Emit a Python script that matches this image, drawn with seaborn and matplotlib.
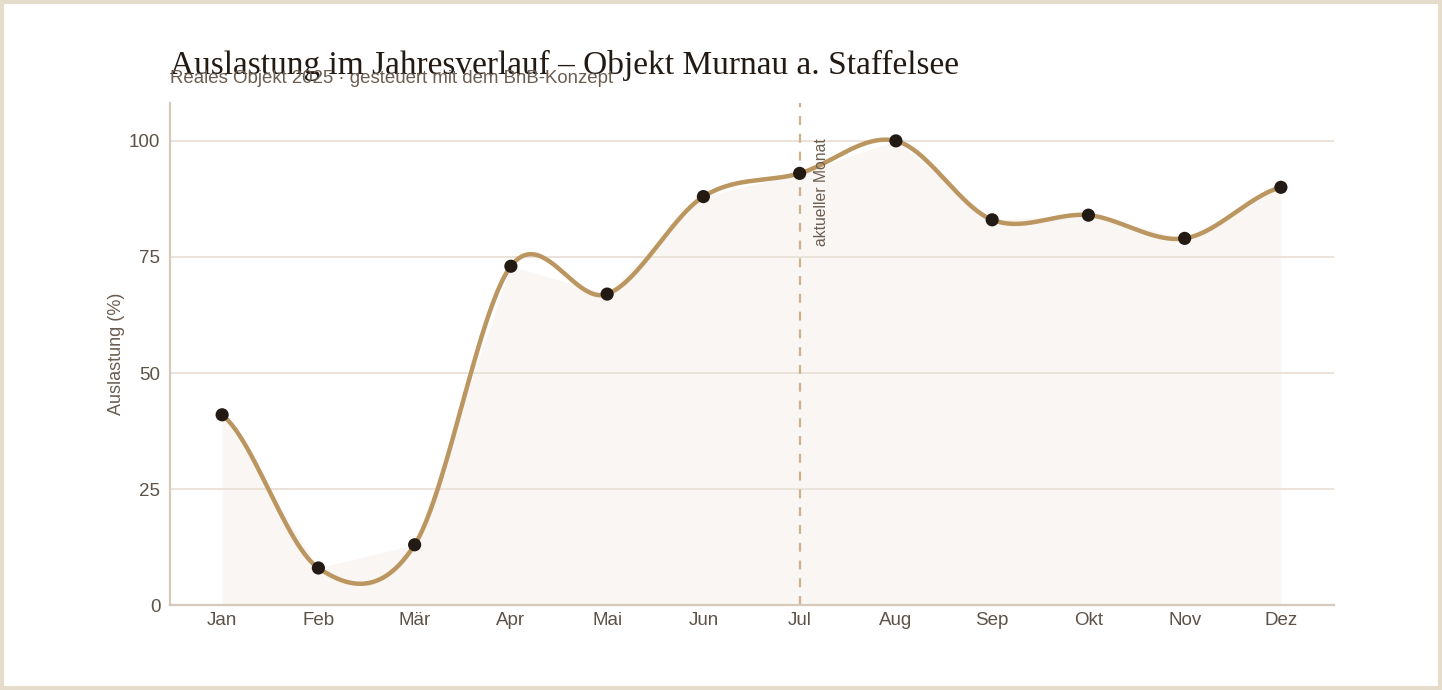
import numpy as np
import pandas as pd
import matplotlib
matplotlib.use("Agg")
import matplotlib.pyplot as plt
import seaborn as sns
from matplotlib.patches import Rectangle

months = ['Jan', 'Feb', 'Mär', 'Apr', 'Mai', 'Jun', 'Jul', 'Aug', 'Sep', 'Okt', 'Nov', 'Dez']
auslastung = [41, 8, 13, 73, 67, 88, 93, 100, 83, 84, 79, 90]
current_month = 'Jul'

df = pd.DataFrame({'monat': months, 'auslastung': auslastung})
df['pos'] = np.arange(len(df))


def catmull_rom(x, y, steps=50):
    # smooth curve through the points (Catmull-Rom), only for drawing
    x = np.asarray(x, float)
    y = np.asarray(y, float)
    k = len(y)
    m = np.zeros(k)
    m[1:-1] = (y[2:] - y[:-2]) / 2
    m[0] = (y[1] - y[0]) / 2
    m[-1] = (y[-1] - y[-2]) / 2
    xs, ys = [], []
    for i in range(k - 1):
        t = np.linspace(0, 1, steps, endpoint=(i == k - 2))
        h00 = 2 * t ** 3 - 3 * t ** 2 + 1
        h10 = t ** 3 - 2 * t ** 2 + t
        h01 = -2 * t ** 3 + 3 * t ** 2
        h11 = t ** 3 - t ** 2
        xs.append(x[i] + t * (x[i + 1] - x[i]))
        ys.append(h00 * y[i] + h10 * m[i] + h01 * y[i + 1] + h11 * m[i + 1])
    return np.concatenate(xs), np.concatenate(ys)


sns.set_theme(style="white")
plt.rcParams['font.family'] = ['Liberation Sans', 'DejaVu Sans']

fig, ax = plt.subplots(figsize=(14.42, 6.9), dpi=100)
fig.patch.set_facecolor('white')
fig.subplots_adjust(left=0.118, right=0.925, top=0.851, bottom=0.123)

# light area under the points
ax.fill_between(df['pos'], df['auslastung'], 0, color='#faf6f3', zorder=0.5, linewidth=0)

xs, ys = catmull_rom(df['pos'], df['auslastung'])
sns.lineplot(x=xs, y=ys, ax=ax, color='#bb9660', linewidth=3.2, zorder=3)
sns.scatterplot(data=df, x='pos', y='auslastung', ax=ax, color='#231a14', s=90,
                edgecolor='none', zorder=4)

jul = months.index(current_month)
ax.axvline(jul, color='#cfb08a', linestyle=(0, (4, 4)), linewidth=1.6, zorder=2)
ax.text(jul + 0.15, 100.5, 'aktueller Monat', rotation=90, ha='left', va='top',
        fontsize=11.3, color='#6b5d50', zorder=5)

ax.set_xlim(-0.54, 11.55)
ax.set_ylim(0, 108.2)
ax.set_xticks(df['pos'])
ax.set_xticklabels(months)
ax.set_yticks([0, 25, 50, 75, 100])
ax.tick_params(axis='both', length=0, labelsize=13.5, labelcolor='#5d5248', pad=7)
ax.tick_params(axis='x', pad=5)
ax.yaxis.grid(True, color='#e9e1d8', linewidth=1.3, zorder=1)
ax.set_axisbelow(True)
ax.xaxis.grid(False)
ax.set_xlabel('')
ax.set_ylabel('Auslastung (%)', fontsize=13, color='#6b5d50', labelpad=3)
for side in ['top', 'right']:
    ax.spines[side].set_visible(False)
for side in ['left', 'bottom']:
    ax.spines[side].set_color('#d4c9bc')
    ax.spines[side].set_linewidth(1.6)

fig.text(0.118, 0.893, 'Auslastung im Jahresverlauf – Objekt Murnau a. Staffelsee',
         family=['Liberation Serif', 'DejaVu Serif'], fontsize=24, color='#231a14',
         ha='left', va='baseline')
fig.text(0.118, 0.880, 'Reales Objekt 2025 · gesteuert mit dem BnB-Konzept',
         fontsize=13.4, color='#6b5d50', ha='left', va='baseline')

fig.patches.append(Rectangle((0.0015, 0.003), 0.997, 0.994, transform=fig.transFigure,
                             fill=False, edgecolor='#e6dccb', linewidth=3))

fig.savefig('out.png', dpi=100, facecolor='white')
